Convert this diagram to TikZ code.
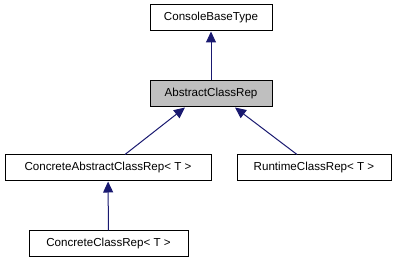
\documentclass[tikz,border=0pt]{standalone}
\usepackage{fontspec}
\setmainfont{Liberation Sans}
\usetikzlibrary{arrows.meta}
\definecolor{edgeblue}{HTML}{191970}
\definecolor{boxgray}{HTML}{BFBFBF}
\tikzset{every node/.style={shape=rectangle,draw=black,fill=white,line width=1pt,minimum height=26pt,inner sep=0pt,font=\fontsize{11.6}{13}\selectfont}}
\tikzset{every edge/.style={draw=edgeblue,line width=1pt,{Triangle[width=10pt,length=11pt]}-}}

\begin{document}
\begin{tikzpicture}[x=1pt,y=-1pt]
  \useasboundingbox (0,0) rectangle (397,261);
  \node (base) [minimum width=122pt] at (211,18) {ConsoleBaseType};
  \node (abs) [minimum width=122pt, fill=boxgray] at (211,94) {AbstractClassRep};
  \node (cacr) [minimum width=206pt] at (108,168) {ConcreteAbstractClassRep< T >};
  \node (rcr) [minimum width=154pt] at (314,168) {RuntimeClassRep< T >};
  \node (ccr) [minimum width=159pt] at (108.5,244) {ConcreteClassRep< T >};

  \path (base) edge (abs);
  \path ([xshift=-26pt]abs.south) edge ([xshift=17pt]cacr.north);
  \path ([xshift=24pt]abs.south) edge ([xshift=-17pt]rcr.north);
  \path (cacr) edge (ccr);
\end{tikzpicture}
\end{document}
